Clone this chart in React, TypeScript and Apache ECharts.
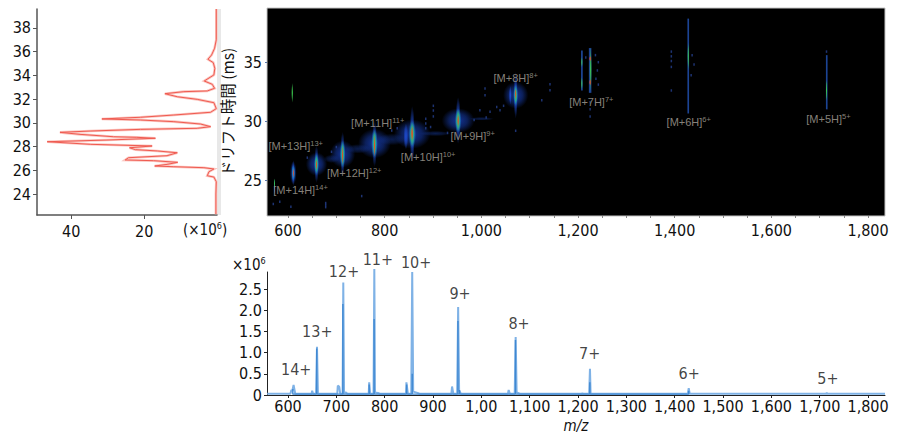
import React, { useEffect, useRef } from "react";
import * as echarts from "echarts";

const FONT = "'DejaVu Sans Condensed','Liberation Sans',sans-serif";
const INK = "#111111";

// ---- Left panel: total drift-time profile [intensity x10^6, drift time ms]
const driftProfile = [
  [0.2, 39.6], [0.2, 37.0], [0.66, 36.29], [1.49, 35.72], [2.5, 35.36], [1.03, 35.08], [0.6, 34.6], [0.85, 34.04],
  [3.5, 33.53], [1.3, 33.25], [0.66, 32.91], [2.67, 32.69], [9.1, 32.63], [14.3, 32.46], [10.9, 32.2], [5.4, 31.98],
  [0.85, 31.7], [0.2, 31.2], [1.76, 30.89], [11.85, 30.66], [21, 30.47], [31.6, 30.33], [21, 30.24], [11.85, 30.1],
  [4.5, 29.9], [1.76, 29.68], [5.4, 29.54], [21, 29.45], [34.8, 29.31], [43.1, 29.2], [37.6, 29.03], [28.4, 28.83],
  [22, 28.78], [16.9, 28.7], [30.2, 28.55], [46.6, 28.41], [34.8, 28.19], [17.8, 28.05], [24, 27.9], [22.4, 27.74],
  [16.4, 27.63], [10.9, 27.48], [13.7, 27.23], [24.3, 27.06], [25.2, 26.87], [17.4, 26.81], [10.8, 26.67], [13.7, 26.5],
  [17.1, 26.36], [11.85, 26.3], [3.6, 26.22], [0.85, 26.11], [2.2, 25.88], [2.67, 25.54], [0.85, 25.43], [0.2, 25.04],
  [0.3, 24.0], [0.3, 22.3],
];
const driftTicks = [24, 26, 28, 30, 32, 34, 36, 38];
const intensityTicks = [20, 40];

// ---- Heat map: ellipses [m/z, drift time, m/z radius, drift radius]
const haloBlue = [
  [611, 25.6, 7, 1.0], [659, 26.35, 22, 1.0], [713, 27.2, 26, 1.15], [779, 28.1, 34, 1.25], [857, 28.9, 38, 1.25],
  [952, 30.05, 34, 1.05], [1071, 32.2, 26, 1.15],
];
const smearBlue = [
  [745, 27.65, 26, 0.4], [815, 28.45, 30, 0.5], [905, 28.95, 32, 0.22], [690, 26.8, 16, 0.35], [1000, 30.2, 26, 0.15],
];
const streakBlue = [
  [611, 25.6, 3.5, 1.1], [659, 26.35, 5, 1.6], [713, 27.2, 5, 1.9], [779, 28.1, 5.5, 2.0], [857, 28.9, 5.5, 2.4],
  [952, 30.05, 5.5, 2.0], [1071, 32.2, 4.5, 2.0], [572, 24.4, 2, 0.7], [844, 28.7, 5, 1.1], [1060, 32.2, 3, 0.8],
];
const coreCyan = [
  [611, 25.6, 4, 0.7], [659, 26.35, 5, 0.95], [713, 27.2, 6, 1.2], [779, 28.1, 7, 1.25], [857, 28.9, 8, 1.2],
  [952, 30.05, 7, 1.05], [1071, 32.2, 5, 0.95],
];
const coreGreen = [
  [659, 26.35, 3.5, 0.8], [713, 27.2, 3.5, 1.05], [779, 28.1, 4, 1.15], [857, 28.9, 5, 1.05], [952, 30.05, 4.5, 0.95],
  [1071, 32.2, 3.2, 0.8], [609, 32.4, 2.4, 0.85], [1226, 34.4, 2.6, 1.9], [1208, 35.0, 1.8, 0.5], [1208, 33.2, 1.8, 0.6],
  [1428, 35.5, 2, 1.2], [1714, 32.6, 1.4, 0.9], [572, 24.7, 1.6, 0.45],
];
const coreRed = [
  [611, 25.6, 1.8, 0.4], [659, 26.3, 1.8, 0.4], [713, 27.1, 2, 0.75], [779, 27.9, 2.2, 0.9], [857, 28.95, 2.8, 0.65],
  [952, 30.05, 2.2, 0.55], [1071, 32.3, 2, 0.45], [1225, 35.3, 2.2, 0.25], [1225, 33.3, 2.2, 0.3],
];
// Uniform thin streaks: [m/z, low drift, half-width m/z, high drift]
const thinStreaks = [
  [1225, 32.4, 2.6, 36.2], [1208, 32.6, 1.8, 36.0], [1428, 30.65, 1.7, 38.7], [1714.5, 31.0, 1.7, 35.6],
];
const specks = [
  [569.6, 22.97], [583, 23.16], [606, 22.74], [678, 22.88], [678, 22.7], [678, 23.05], [752.5, 23.64], [1007.6, 32.77], [1007.6, 32.2],
  [1031.8, 31.2], [997, 30.93], [1018, 30.79], [1038.6, 30.93], [1142, 33.14], [1142, 32.63], [1125, 31.78], [1071, 29.18],
  [900.7, 31.3], [900.7, 30.9], [900.7, 30.4], [814.6, 29.2], [1225, 31.6], [1225, 31.0], [1225, 30.4], [1393, 35.9],
  [1393, 35.5], [1393, 35.1], [1393, 34.6], [1393, 32.6], [1714, 35.9], [1237, 33.6], [1242, 35.0], [1240, 34.3], [1242, 33.1],
  [1440, 34.8], [1436, 35.6], [1434, 33.9], [985, 30.1], [1010, 30.3], [1046, 31.3], [1236, 35.6], [1216, 35.4],
  [885, 30.2], [885, 29.8], [885, 29.4], [895, 29.5], [930, 29.0], [826, 29.4], [640, 26.9], [690, 27.4], [700, 27.8],
];
const ionLabels = [
  { core: "[M+14H]", charge: "14+", mz: 626, dt: 24.15 },
  { core: "[M+13H]", charge: "13+", mz: 616, dt: 27.88 },
  { core: "[M+12H]", charge: "12+", mz: 737, dt: 25.62 },
  { core: "[M+11H]", charge: "11+", mz: 785.6, dt: 29.8 },
  { core: "[M+10H]", charge: "10+", mz: 890, dt: 26.97 },
  { core: "[M+9H]", charge: "9+", mz: 982, dt: 28.73 },
  { core: "[M+8H]", charge: "8+", mz: 1071, dt: 33.7 },
  { core: "[M+7H]", charge: "7+", mz: 1227.5, dt: 31.63 },
  { core: "[M+6H]", charge: "6+", mz: 1429, dt: 29.94 },
  { core: "[M+5H]", charge: "5+", mz: 1718, dt: 30.14 },
];
const heatXTicks = [600, 800, 1000, 1200, 1400, 1600, 1800];
const heatXMinor = [600, 650, 700, 750, 800, 850, 900, 950, 1000, 1050, 1100, 1150, 1200, 1250, 1300, 1350, 1400, 1450, 1500, 1550, 1600, 1650, 1700, 1750, 1800];
const heatYTicks = [25, 30, 35];

// ---- Bottom panel: mass spectrum [m/z, intensity x10^6]
const spectrumLight = [
  [557, 0.03], [605, 0.03], [607, 0.12], [609, 0.1], [611.6, 0.24], [613, 0.24], [615, 0.03], [649, 0.03], [650, 0.1], [652, 0.03],
  [658, 0.03], [660, 1.14], [662, 0.03], [702, 0.03], [703, 0.22], [706, 0.2], [708, 0.03], [713, 0.03], [714.4, 2.66], [716, 0.05],
  [720, 0.06], [723, 0.03], [767, 0.03], [768, 0.3], [770, 0.03], [777, 0.03], [778.6, 2.98], [780, 0.06], [786, 0.05], [790, 0.03],
  [844, 0.03], [845, 0.3], [848, 0.03], [855, 0.03], [857, 2.91], [859, 0.08], [868, 0.05], [872, 0.03], [938, 0.03], [939.4, 0.2],
  [942, 0.03], [950, 0.03], [952, 2.08], [954, 0.1], [958, 0.03], [1055, 0.03], [1056.5, 0.12], [1059, 0.03], [1069, 0.03], [1071, 1.37],
  [1073, 0.06], [1080, 0.03], [1208, 0.03], [1209, 0.05], [1210, 0.03], [1223, 0.03], [1224.7, 0.62], [1226, 0.03], [1427, 0.03], [1429, 0.16],
  [1431, 0.03], [1713, 0.03], [1714.5, 0.05], [1716, 0.03], [1835, 0.03],
];
const spectrumDark = [
  [610, 0.02], [610, 0.14], [610, 0.02], [659.5, 0.02], [659.5, 1.1], [659.5, 0.02], [713.6, 0.02], [713.6, 2.15], [713.6, 0.02],
  [778.2, 0.02], [778.2, 1.8], [778.2, 0.02], [768, 0.02], [768, 0.25], [768, 0.02], [857, 0.02], [857, 0.5], [857, 0.02],
  [845.5, 0.02], [845.5, 0.25], [845.5, 0.02], [951.6, 0.02], [951.6, 1.75], [951.6, 0.02], [955, 0.02], [955, 0.12], [955, 0.02],
  [1070.6, 0.02], [1070.6, 1.3], [1070.6, 0.02], [1224.4, 0.02], [1224.4, 0.3], [1224.4, 0.02], [1429, 0.02], [1429, 0.1],
];
const chargeLabels = [
  { name: "14+", mz: 617, v: 0.61 }, { name: "13+", mz: 660.6, v: 1.51 }, { name: "12+", mz: 716, v: 2.93 },
  { name: "11+", mz: 786, v: 3.2 }, { name: "10+", mz: 865, v: 3.14 }, { name: "9+", mz: 956, v: 2.39 },
  { name: "8+", mz: 1078, v: 1.7 }, { name: "7+", mz: 1224, v: 0.98 }, { name: "6+", mz: 1430, v: 0.515 }, { name: "5+", mz: 1717, v: 0.4 },
];
const specXTicks = [600, 700, 800, 900, 1000, 1100, 1200, 1300, 1400, 1500, 1600, 1700, 1800];
const specXLabels = ["600", "700", "800", "900", "1,00", "1,100", "1,200", "1,300", "1,400", "1,500", "1,600", "1,700", "1,800"];
const specYTicks = [0, 0.5, 1, 1.5, 2, 2.5];
const specYLabels = ["0", "0.5", "1.0", "1.5", "2.0", "2.5"];

const layer = (data: number[][], rgb: string, opacity: number) => ({
  type: "custom",
  xAxisIndex: 1,
  yAxisIndex: 1,
  silent: true,
  encode: { x: 0, y: 1 },
  data,
  renderItem: (_p: any, api: any) => {
    const mz = api.value(0), dt = api.value(1);
    const c = api.coord([mz, dt]);
    const rx = Math.abs(api.coord([mz + api.value(2), dt])[0] - c[0]);
    const ry = Math.abs(api.coord([mz, dt + api.value(3)])[1] - c[1]);
    return {
      type: "ellipse",
      shape: { cx: c[0], cy: c[1], rx, ry },
      style: {
        fill: new echarts.graphic.RadialGradient(0.5, 0.5, 0.5, [
          { offset: 0, color: `rgba(${rgb},${opacity})` },
          { offset: 0.55, color: `rgba(${rgb},${opacity * 0.6})` },
          { offset: 1, color: `rgba(${rgb},0)` },
        ]),
      },
    };
  },
});

const thinLayer = (data: number[][], color: string) => ({
  type: "custom",
  xAxisIndex: 1,
  yAxisIndex: 1,
  silent: true,
  encode: { x: 0, y: 1 },
  data,
  renderItem: (_p: any, api: any) => {
    const mz = api.value(0), half = api.value(2);
    const a = api.coord([mz - half, api.value(3)]);
    const b = api.coord([mz + half, api.value(1)]);
    return { type: "rect", shape: { x: a[0], y: a[1], width: b[0] - a[0], height: b[1] - a[1] }, style: { fill: color } };
  },
});

export default function App() {
  const ref = useRef<HTMLDivElement>(null);
  useEffect(() => {
    const chart = echarts.init(ref.current!, null, { renderer: "svg" });
    const tickFont = { fontFamily: FONT, fontSize: 16, color: INK };
    chart.setOption({
      animation: false,
      backgroundColor: "#ffffff",
      grid: [
        { left: 37, top: 9, width: 180, height: 206 },
        { left: 267, top: 8, width: 618, height: 208, show: true, backgroundColor: "#000000", borderColor: "#c4c4c4", borderWidth: 1 },
        { left: 267, top: 272, width: 618, height: 124 },
      ],
      xAxis: [
        {
          gridIndex: 0, type: "value", inverse: true, min: 0, max: 49.4, splitLine: { show: false },
          axisLine: { onZero: false, lineStyle: { color: "#555555", width: 1.5 } },
          axisTick: { customValues: intensityTicks, length: 4, lineStyle: { color: "#555555" } },
          axisLabel: { customValues: intensityTicks, margin: 8, ...tickFont },
        },
        {
          gridIndex: 1, type: "value", min: 556.6, max: 1835, splitLine: { show: false },
          axisLine: { show: false },
          axisTick: { customValues: heatXMinor, length: 2, lineStyle: { color: "#888888" } },
          axisLabel: {
            customValues: heatXTicks, margin: 6, ...tickFont,
            formatter: (v: number) => v.toLocaleString("en-US"),
          },
        },
        {
          gridIndex: 2, type: "value", min: 556.6, max: 1835, splitLine: { show: false },
          axisLine: { onZero: false, lineStyle: { color: "#222222", width: 1 } },
          axisTick: { customValues: specXTicks, length: 3, lineStyle: { color: "#222222" } },
          axisLabel: {
            customValues: specXTicks, margin: 3, ...tickFont,
            formatter: (v: number) => specXLabels[specXTicks.indexOf(v)],
          },
          name: "m/z", nameLocation: "middle", nameGap: 23, nameMoveOverlap: false,
          nameTextStyle: { fontFamily: FONT, fontSize: 15, fontStyle: "italic", color: INK },
        },
      ],
      yAxis: [
        {
          gridIndex: 0, type: "value", min: 22.23, max: 39.6, splitLine: { show: false },
          axisLine: { onZero: false, lineStyle: { color: "#555555", width: 1.5 } },
          axisTick: { customValues: driftTicks, length: 4, lineStyle: { color: "#555555" } },
          axisLabel: { customValues: driftTicks, margin: 6, ...tickFont },
        },
        {
          gridIndex: 1, type: "value", min: 21.95, max: 39.6, splitLine: { show: false },
          axisLine: { show: false },
          axisTick: { customValues: heatYTicks, length: 2, lineStyle: { color: "#5a78a8" } },
          axisLabel: { customValues: heatYTicks, margin: 5, ...tickFont },
          name: "ドリフト時間 (ms)", nameLocation: "middle", nameGap: 32, nameMoveOverlap: false,
          nameTextStyle: { fontFamily: "'Noto Sans CJK JP',sans-serif", fontSize: 15.5, color: INK },
        },
        {
          gridIndex: 2, type: "value", min: 0, max: 2.91, splitLine: { show: false },
          axisLine: { onZero: false, lineStyle: { color: "#222222", width: 1 } },
          axisTick: { customValues: specYTicks, length: 3, lineStyle: { color: "#222222" } },
          axisLabel: {
            customValues: specYTicks, margin: 5, ...tickFont,
            formatter: (v: number) => specYLabels[specYTicks.indexOf(v)],
          },
        },
      ],
      graphic: [
        { type: "rect", x: 217, y: 9, shape: { width: 4, height: 206 }, style: { fill: "#e8e8e8" }, z: 0 },
        {
          type: "text", x: 183, y: 221, z: 10,
          style: {
            text: "{a|(×10}{b|6}{a|)}",
            rich: {
              a: { fontFamily: FONT, fontSize: 15, fill: INK, lineHeight: 18 },
              b: { fontFamily: FONT, fontSize: 9, fill: INK, lineHeight: 18, verticalAlign: "top" },
            },
          },
        },
        {
          type: "text", x: 232, y: 256, z: 10,
          style: {
            text: "{a|×10}{b|6}",
            rich: {
              a: { fontFamily: FONT, fontSize: 15, fill: INK, lineHeight: 18 },
              b: { fontFamily: FONT, fontSize: 9, fill: INK, lineHeight: 18, verticalAlign: "top" },
            },
          },
        },
      ],
      series: [
        {
          type: "line", xAxisIndex: 0, yAxisIndex: 0, data: driftProfile, showSymbol: false, silent: true,
          lineStyle: { color: "#fbc5bf", width: 2.6, join: "miter" }, z: 2,
        },
        {
          type: "line", xAxisIndex: 0, yAxisIndex: 0, data: driftProfile, showSymbol: false, silent: true,
          lineStyle: { color: "#ef5a50", width: 1, join: "miter" }, z: 3,
        },
        layer(smearBlue, "26,70,190", 0.4),
        layer(haloBlue, "26,70,200", 0.75),
        thinLayer(thinStreaks, "#1c4494"),
        layer(streakBlue, "32,80,220", 0.9),
        layer(coreCyan, "30,170,210", 0.8),
        layer(coreGreen, "60,205,80", 0.95),
        layer(coreRed, "235,70,40", 1),
        {
          type: "scatter", xAxisIndex: 1, yAxisIndex: 1, data: specks, symbol: "rect", symbolSize: [1.5, 2.5], silent: true,
          itemStyle: { color: "#24408f" },
        },
        {
          type: "scatter", xAxisIndex: 1, yAxisIndex: 1, symbolSize: 0, silent: true,
          data: ionLabels.map((l) => ({ value: [l.mz, l.dt], core: l.core, charge: l.charge })),
          label: {
            show: true, position: "inside",
            formatter: (p: any) => `{m|${p.data.core}}{s|${p.data.charge}}`,
            rich: {
              m: { fontFamily: "'Liberation Sans',sans-serif", fontSize: 11, color: "#aaa49b", lineHeight: 13 },
              s: { fontFamily: "'Liberation Sans',sans-serif", fontSize: 7.5, color: "#aaa49b", lineHeight: 13, verticalAlign: "top" },
            },
          },
        },
        {
          type: "line", xAxisIndex: 2, yAxisIndex: 2, data: spectrumLight, showSymbol: false, silent: true, clip: false,
          lineStyle: { color: "#7fb2e6", width: 2 }, z: 3,
        },
        {
          type: "line", xAxisIndex: 2, yAxisIndex: 2, data: spectrumDark, showSymbol: false, silent: true, clip: false,
          lineStyle: { color: "#3f88d2", width: 1.4 }, z: 4,
        },
        {
          type: "scatter", xAxisIndex: 2, yAxisIndex: 2, symbolSize: 0, silent: true, clip: false,
          data: chargeLabels.map((l) => ({ value: [l.mz, l.v], name: l.name })),
          label: {
            show: true, position: "inside", formatter: (p: any) => p.data.name,
            fontFamily: FONT, fontSize: 16, color: INK,
          },
        },
      ],
    });
    return () => chart.dispose();
  }, []);
  return <div ref={ref} style={{ position: "fixed", left: 0, top: 0, width: 904, height: 434 }} />;
}
